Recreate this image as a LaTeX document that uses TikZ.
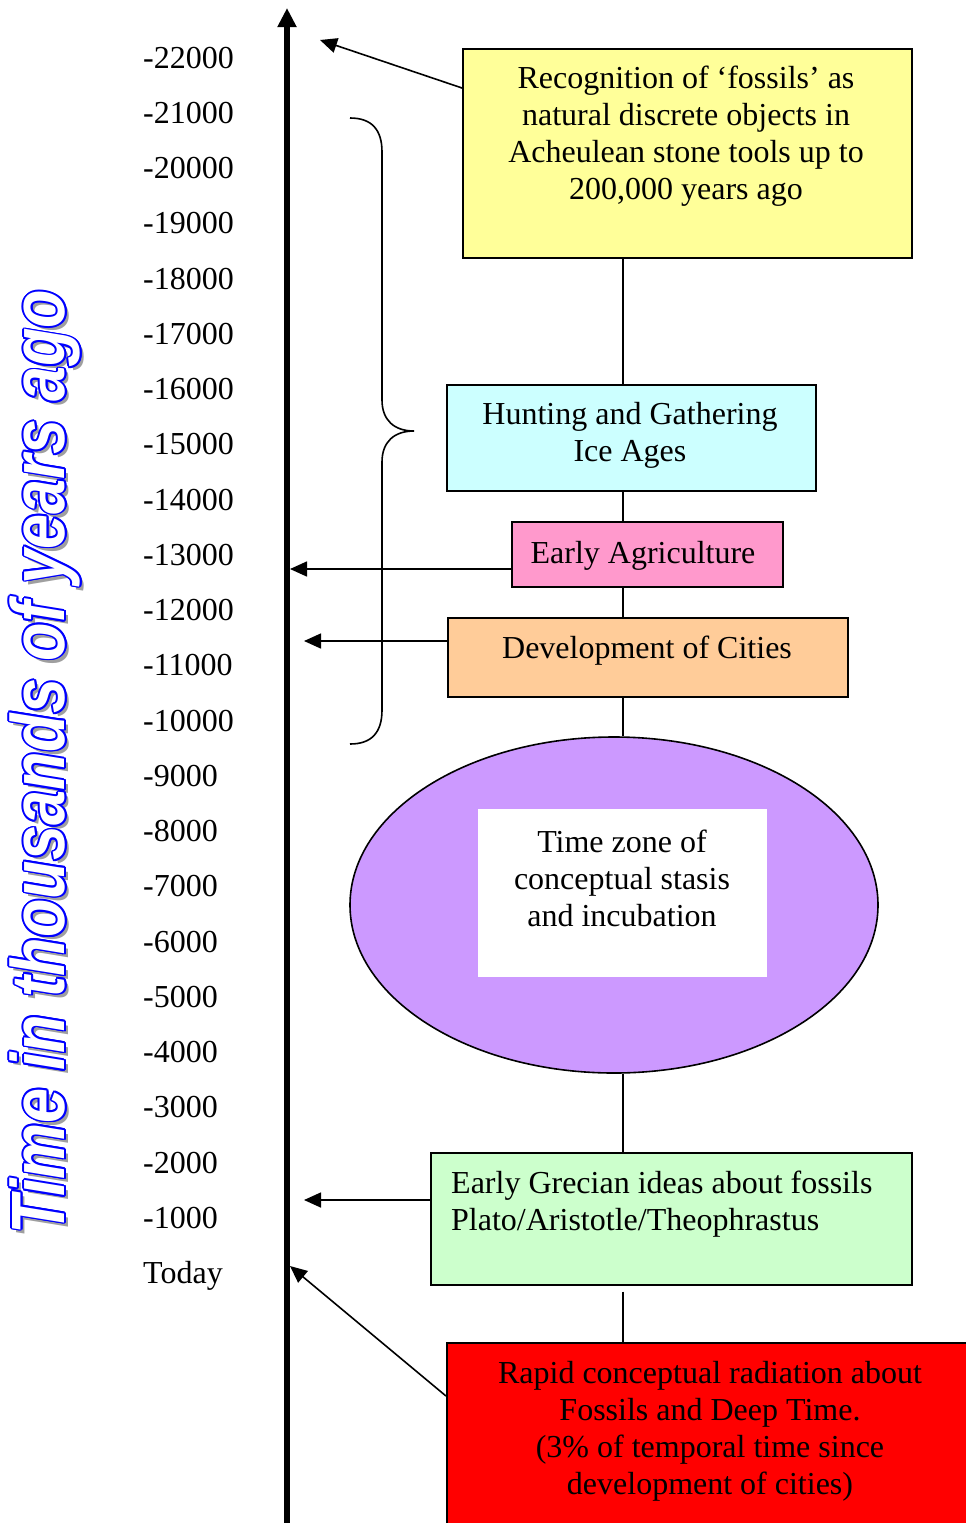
\documentclass[tikz,border=0pt]{standalone}
\usepackage{fontspec}
\setmainfont{Liberation Serif}
\newfontfamily\titlefont{Liberation Sans}
\usetikzlibrary{arrows.meta,shapes.geometric,calc}

\definecolor{yel}{HTML}{FFFF99}
\definecolor{icecyan}{HTML}{CCFFFF}
\definecolor{agripink}{HTML}{FF99CC}
\definecolor{cityorange}{HTML}{FFCC99}
\definecolor{stasispurple}{HTML}{CC99FF}
\definecolor{greekgreen}{HTML}{CCFFCC}
\definecolor{radred}{HTML}{FF0000}
\definecolor{titleblue}{HTML}{0000FF}

\newcommand{\axistitle}{\scalebox{1}[1.2]{\fontsize{63}{63}\titlefont\bfseries\itshape Time in thousands of years ago}}

\tikzset{
  box/.style={draw, line width=1.6pt, inner sep=0pt, anchor=north west},
  txt/.style={align=center, inner sep=0pt, font=\fontsize{32}{37}\selectfont},
  lab/.style={anchor=base west, inner sep=0pt, font=\fontsize{32}{37}\selectfont},
  conn/.style={line width=1.6pt},
  pointer/.style={line width=1.6pt, -{Triangle[length=17pt,width=15pt]}},
  titlepart/.style={rotate=90, inner sep=0pt},
}

\begin{document}
\begin{tikzpicture}[x=1pt, y=-1pt]
\clip (0,0) rectangle (966,1523);
\fill[white] (0,0) rectangle (966,1523);

% vertical title: grey drop shadow, blue outline, white face
\coordinate (titlepos) at (45,762);
\node[titlepart, text=gray!75] (titleshadow) at ($(titlepos)+(4,4)$) {\axistitle};
\foreach \a [count=\k] in {0,30,...,330}
  \node[titlepart, text=titleblue] (titleedge\k) at ($(titlepos)+(\a:1.7)$) {\axistitle};
\node[titlepart, text=white] (title) at (titlepos) {\axistitle};

% time axis
\coordinate (axisbot) at (287,1523);
\coordinate (axistop) at (287,8);
\draw[line width=6pt, -{Triangle[length=19pt,width=18pt]}] (axisbot) -- (axistop);

% scale labels
\foreach \v [count=\i from 0] in {-22000,-21000,-20000,-19000,-18000,-17000,-16000,-15000,-14000,-13000,-12000,-11000,-10000,-9000,-8000,-7000,-6000,-5000,-4000,-3000,-2000,-1000,Today}
  \node[lab] (tick\i) at (143,{68+55.25*\i}) {\v};

% brace
\draw[line width=1.6pt] (350,118) .. controls (372,118) and (382,130) .. (382,152)
  -- (382,400) .. controls (382,420) and (394,431) .. (414,431)
  .. controls (394,431) and (382,442) .. (382,462)
  -- (382,710) .. controls (382,732) and (372,744) .. (350,744);

% spine of the event boxes
\coordinate (spine) at (623,0);

% event boxes
\node[box, fill=yel, minimum width=449pt, minimum height=209pt] (rec) at (462,48) {};
\node[txt] (rectxt) at (686,136) {Recognition of ‘fossils’ as\\natural discrete objects in\\Acheulean stone tools up to\\200,000 years ago};

\node[box, fill=icecyan, minimum width=369pt, minimum height=106pt] (hunt) at (446,384) {};
\node[txt] (hunttxt) at (630,435) {Hunting and Gathering\\Ice Ages};

\node[box, fill=agripink, minimum width=271pt, minimum height=65pt] (agri) at (511,521) {};
\node[txt] (agritxt) at (643,556) {Early Agriculture};

\node[box, fill=cityorange, minimum width=400pt, minimum height=79pt] (cities) at (447,617) {};
\node[txt] (citiestxt) at (647,651) {Development of Cities};

\node[ellipse, draw, line width=1.6pt, fill=stasispurple, minimum width=528pt, minimum height=336pt, inner sep=0pt] (stasis) at (614,905) {};
\node[fill=white, minimum width=289pt, minimum height=168pt, inner sep=0pt] (stasisbox) at (622.5,893) {};
\node[txt] (stasistxt) at (622,878) {Time zone of\\conceptual stasis\\and incubation};

\node[box, fill=greekgreen, minimum width=481pt, minimum height=132pt] (greek) at (430,1152) {};
\node[txt, align=left, anchor=north west] (greektxt) at (451,1171) {Early Grecian ideas about fossils\\Plato/Aristotle/Theophrastus};

\node[box, fill=radred, minimum width=540pt, minimum height=220pt] (radiation) at (446,1342) {};
\node[txt] (radtxt) at (710,1431) {Rapid conceptual radiation about\\Fossils and Deep Time.\\(3\% of temporal time since\\development of cities)};

% spine segments
\draw[conn] (rec.south -| spine) -- (hunt.north -| spine);
\draw[conn] (hunt.south -| spine) -- (agri.north -| spine);
\draw[conn] (agri.south -| spine) -- (cities.north -| spine);
\draw[conn] (cities.south -| spine) -- (stasis.north -| spine);
\draw[conn] (stasis.south -| spine) -- (greek.north -| spine);
\draw[conn] ($(greek.south -| spine)+(0,6)$) -- (radiation.north -| spine);

% pointers to the time axis
\coordinate (recend) at (320,40);
\coordinate (agriend) at (290,569);
\coordinate (citiesend) at (304,641);
\coordinate (greekend) at (304,1200);
\coordinate (radend) at (290,1266);
\draw[pointer] ($(rec.north west)+(0,40)$) -- (recend);
\draw[pointer] ($(agri.north west)+(0,48)$) -- (agriend);
\draw[pointer] ($(cities.north west)+(0,24)$) -- (citiesend);
\draw[pointer] ($(greek.north west)+(0,48)$) -- (greekend);
\draw[pointer] ($(radiation.north west)+(0,54)$) -- (radend);
\end{tikzpicture}
\end{document}
